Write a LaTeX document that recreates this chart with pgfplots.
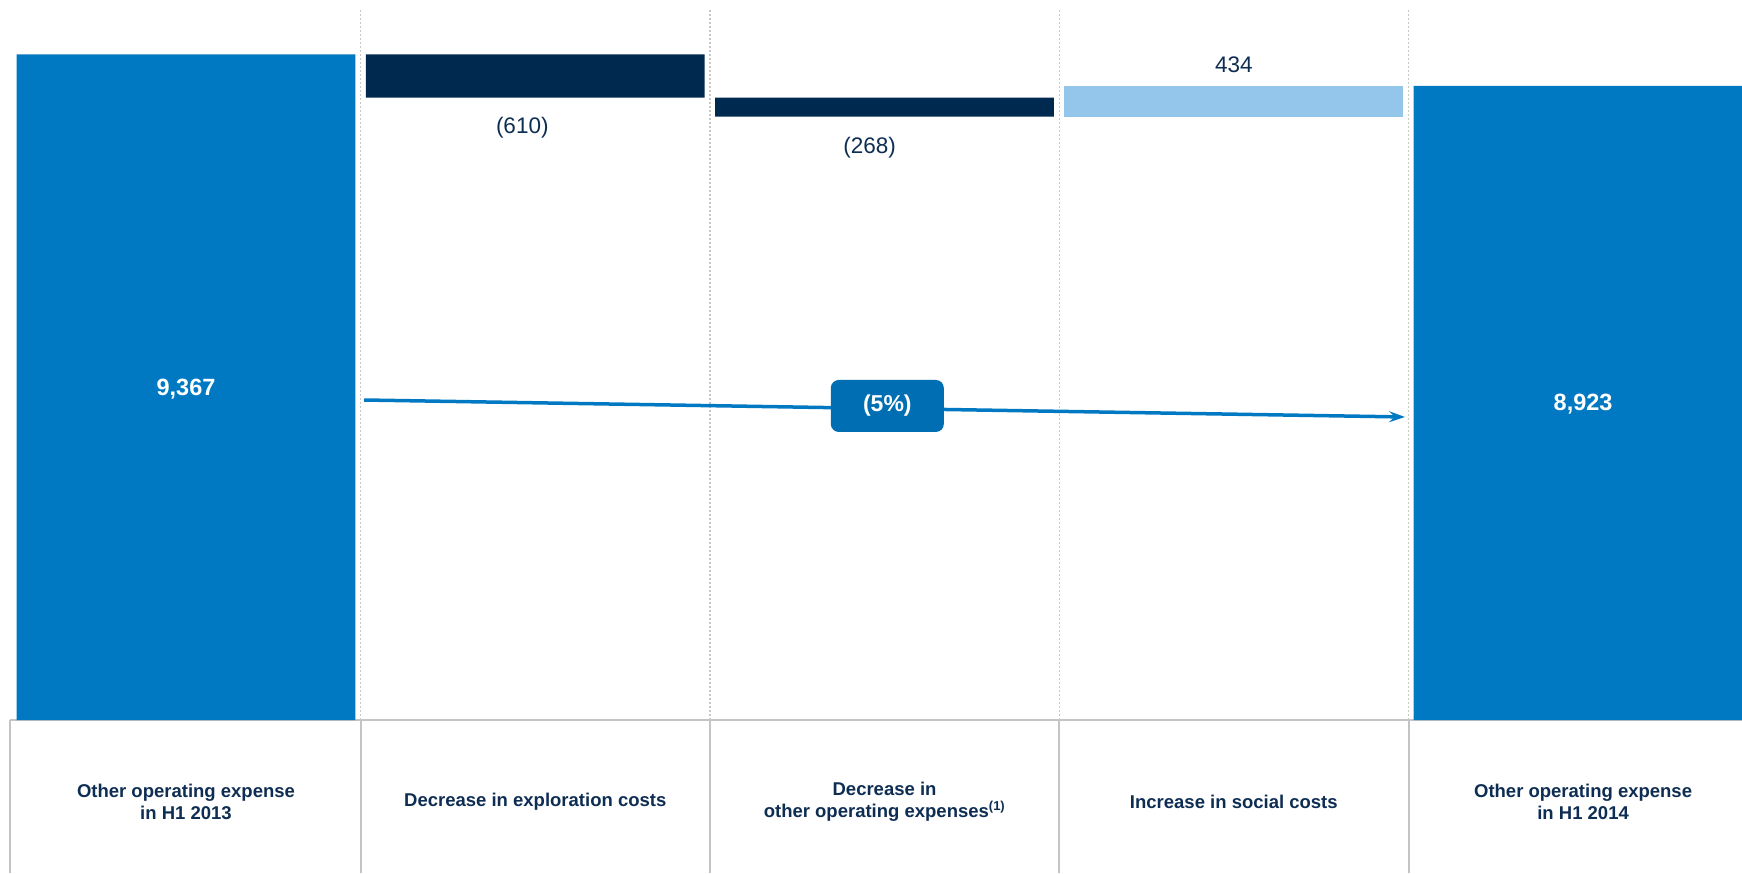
\documentclass[border=0pt]{standalone}
\usepackage{fontspec}
\setmainfont{Liberation Sans}
\usepackage{pgfplots}
\pgfplotsset{compat=1.18}
\usetikzlibrary{arrows.meta}
\definecolor{barblue}{HTML}{0079C2}
\definecolor{boxblue}{HTML}{006EB2}
\definecolor{navybar}{HTML}{00294F}
\definecolor{lightbar}{HTML}{93C6EA}
\definecolor{labelnavy}{HTML}{0E2D53}
\definecolor{tablegray}{HTML}{C4C4C4}
\definecolor{gridgray}{HTML}{C8C8C8}
\begin{document}
\begin{tikzpicture}[x=1pt,y=1pt]
\useasboundingbox (0,0) rectangle (1742,873);
% table lines
\draw[tablegray, line width=2pt] (10,153) -- (1742,153);
\foreach \x in {10,360.65,710,1059.3,1408.6} \draw[tablegray,line width=2pt] (\x,0) -- (\x,153);
\foreach \x in {360.65,710,1059.3,1408.6} \draw[gridgray, line width=1.5pt, dash pattern=on 2pt off 2pt] (\x,153) -- (\x,863);
\begin{axis}[
  at={(11.35pt,153pt)}, anchor=south west,
  width=1730.65pt, height=720pt, scale only axis,
  xmin=-0.5, xmax=4.455, ymin=0, ymax=10132,
  ybar stacked, bar width=0.97,
  axis x line=bottom, axis y line=none,
  axis line style={draw=none},
  ytick=\empty,
  xtick={0,1,2,3,4},
  major tick length=0pt,
  xticklabels={{Other operating expense\\in H1 2013},{Decrease in exploration costs},{Decrease in\\other operating expenses\textsuperscript{(1)}},{Increase in social costs},{Other operating expense\\in H1 2014}},
  xticklabel style={anchor=center, yshift=-81.5pt, align=center, text=labelnavy, font=\fontsize{18.5}{22}\selectfont\bfseries},
]
\addplot[draw=none, fill=none] coordinates {(0,0) (1,8757) (2,8489) (3,8489) (4,0)};
\addplot[draw=none, fill=barblue] coordinates {(0,9367) (1,0) (2,0) (3,0) (4,8923)};
\addplot[draw=none, fill=navybar] coordinates {(0,0) (1,610) (2,268) (3,0) (4,0)};
\addplot[draw=none, fill=lightbar] coordinates {(0,0) (1,0) (2,0) (3,434) (4,0)};
\coordinate (arrA) at (axis cs:0.51,4503);
\coordinate (arrB) at (axis cs:3.49,4264);
\coordinate (lab610) at (axis cs:1,8757);
\coordinate (lab268) at (axis cs:2,8489);
\coordinate (lab434) at (axis cs:3,8923);
\coordinate (labA) at (axis cs:0,4658);
\coordinate (labB) at (axis cs:4,4447);
\coordinate (labBox) at (axis cs:2.008,4419);
\end{axis}
\draw[barblue, line width=3.5pt, -{Stealth[length=16pt,width=11pt,inset=6pt]}] (arrA) -- (arrB);
\node[font=\fontsize{22.5}{26}\selectfont, text=labelnavy, yshift=-30pt, xshift=-13pt] at (lab610) {(610)};
\node[font=\fontsize{22.5}{26}\selectfont, text=labelnavy, yshift=-31pt, xshift=-15pt] at (lab268) {(268)};
\node[font=\fontsize{22.5}{26}\selectfont, text=labelnavy, yshift=21pt] at (lab434) {434};
\node[font=\fontsize{23.5}{27}\selectfont\bfseries, text=white] at (labA) {9,367};
\node[font=\fontsize{23.5}{27}\selectfont\bfseries, text=white] at (labB) {8,923};
\node[fill=boxblue, rounded corners=8pt, minimum width=113pt, minimum height=52pt, text=white, font=\fontsize{23}{27}\selectfont\bfseries] at (labBox) {(5\%)};
\end{tikzpicture}
\end{document}
